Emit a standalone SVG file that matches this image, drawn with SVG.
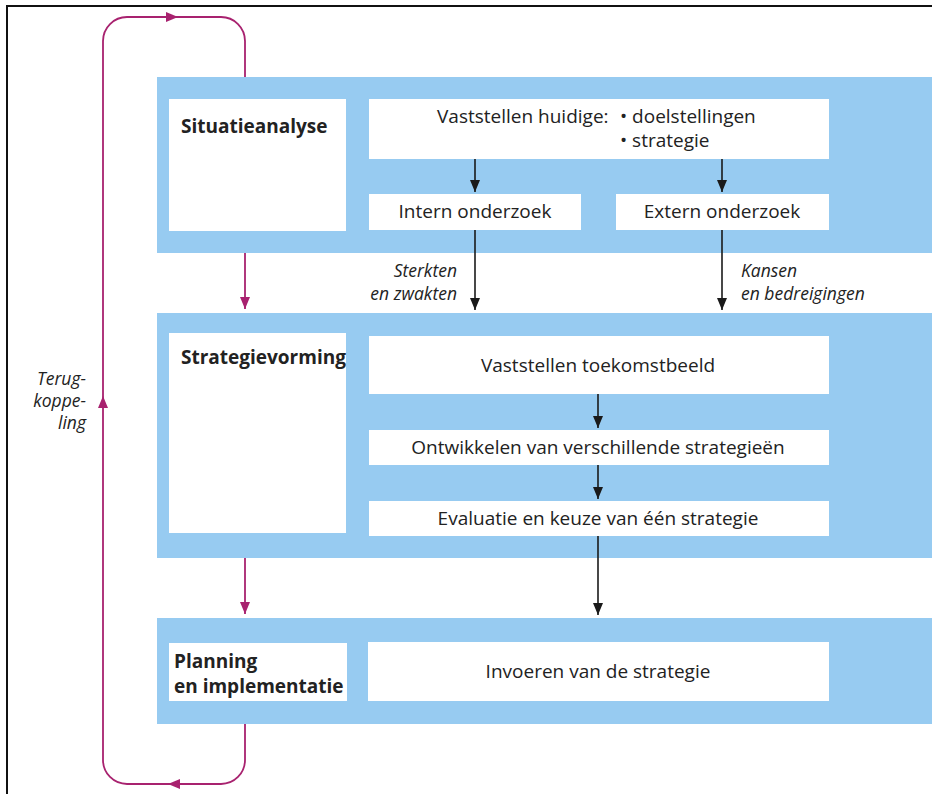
<svg xmlns="http://www.w3.org/2000/svg" width="932" height="794" viewBox="0 0 932 794">
<style>
.band{fill:#97CBF1}
.box{fill:#FFFFFF}
.t{font-family:"Open Sans","Liberation Sans",sans-serif;font-size:19px;fill:#222}
.tb{font-family:"Open Sans","Liberation Sans",sans-serif;font-size:19px;font-weight:bold;fill:#222}
.ti{font-family:"Open Sans","Liberation Sans",sans-serif;font-size:17.5px;font-style:italic;fill:#222}
.c{text-anchor:middle}
.r{text-anchor:end}
.blk{stroke:#1a1a1a;stroke-width:1.6;fill:none}
.mag{stroke:#A8226F;stroke-width:1.8;fill:none}
.magh{fill:#A8226F}
</style>
<defs>
<marker id="ab" viewBox="0 0 12 10" refX="12" refY="5" markerWidth="12" markerHeight="10" markerUnits="userSpaceOnUse" orient="auto"><path d="M0,0 L12,5 L0,10 z" fill="#1a1a1a"/></marker>
<marker id="am" viewBox="0 0 12 10" refX="12" refY="5" markerWidth="12" markerHeight="10" markerUnits="userSpaceOnUse" orient="auto"><path d="M0,0 L12,5 L0,10 z" fill="#A8226F"/></marker>
</defs>
<rect x="0" y="0" width="932" height="794" fill="#FFFFFF"/>
<path d="M7,794 V6 H932" stroke="#111" stroke-width="2" fill="none"/>

<g id="situatieanalyse">
<rect class="band" x="157" y="77" width="775" height="176"/>
<rect class="box" x="169" y="99" width="177" height="132"/>
<text class="tb" x="181" y="133">Situatieanalyse</text>
</g>
<g id="vaststellen-huidige">
<rect class="box" x="369" y="99" width="460" height="60"/>
<text class="t" x="437" y="123">Vaststellen huidige:</text>
<text class="t" x="620" y="123">• doelstellingen</text>
<text class="t" x="620" y="147">• strategie</text>
</g>
<g id="intern-onderzoek">
<rect class="box" x="369" y="194" width="212" height="36"/>
<text class="t c" x="475" y="218">Intern onderzoek</text>
</g>
<g id="extern-onderzoek">
<rect class="box" x="616" y="194" width="213" height="36"/>
<text class="t c" x="722" y="218">Extern onderzoek</text>
</g>

<g id="strategievorming">
<rect class="band" x="157" y="313" width="775" height="245"/>
<rect class="box" x="169" y="333" width="177" height="200"/>
<text class="tb" x="181" y="364" font-size="18.3">Strategievorming</text>
</g>
<g id="toekomstbeeld">
<rect class="box" x="369" y="336" width="460" height="58"/>
<text class="t c" x="598" y="372">Vaststellen toekomstbeeld</text>
</g>
<g id="ontwikkelen">
<rect class="box" x="369" y="430" width="460" height="35"/>
<text class="t c" x="598" y="454">Ontwikkelen van verschillende strategieën</text>
</g>
<g id="evaluatie">
<rect class="box" x="369" y="501" width="460" height="35"/>
<text class="t c" x="598" y="525">Evaluatie en keuze van één strategie</text>
</g>

<g id="planning">
<rect class="band" x="157" y="618" width="775" height="106"/>
<rect class="box" x="169" y="643" width="178" height="58"/>
<text class="tb" x="174" y="668" font-size="18">Planning</text>
<text class="tb" x="174" y="693" font-size="18">en implementatie</text>
</g>
<g id="invoeren">
<rect class="box" x="368" y="642" width="461" height="59"/>
<text class="t c" x="598" y="678">Invoeren van de strategie</text>
</g>

<g id="connectors">
<line class="blk" x1="475" y1="159" x2="475" y2="192" marker-end="url(#ab)"/>
<line class="blk" x1="722" y1="159" x2="722" y2="192" marker-end="url(#ab)"/>
<line class="blk" x1="475" y1="230" x2="475" y2="310" marker-end="url(#ab)"/>
<line class="blk" x1="722" y1="230" x2="722" y2="310" marker-end="url(#ab)"/>
<line class="blk" x1="598" y1="394" x2="598" y2="428" marker-end="url(#ab)"/>
<line class="blk" x1="598" y1="465" x2="598" y2="499" marker-end="url(#ab)"/>
<line class="blk" x1="598" y1="536" x2="598" y2="615" marker-end="url(#ab)"/>
<line class="mag" x1="245" y1="253" x2="245" y2="309" marker-end="url(#am)"/>
<line class="mag" x1="245" y1="558" x2="245" y2="614" marker-end="url(#am)"/>
<path class="mag" d="M245,724 V760 A24,24 0 0 1 221,784 H127 A24,24 0 0 1 103,760 V41 A24,24 0 0 1 127,17 H221 A24,24 0 0 1 245,41 V77"/>
<path class="magh" d="M168,784 L180,779 L180,789 z"/>
<path class="magh" d="M103,396 L98,408 L108,408 z"/>
<path class="magh" d="M178,17 L166,12 L166,22 z"/>
<text class="ti r" x="457" y="277">Sterkten</text>
<text class="ti r" x="457" y="300">en zwakten</text>
<text class="ti" x="741" y="277">Kansen</text>
<text class="ti" x="741" y="300">en bedreigingen</text>
<text class="ti r" x="86" y="385">Terug-</text>
<text class="ti r" x="86" y="407">koppe-</text>
<text class="ti r" x="86" y="429">ling</text>
</g>
</svg>
